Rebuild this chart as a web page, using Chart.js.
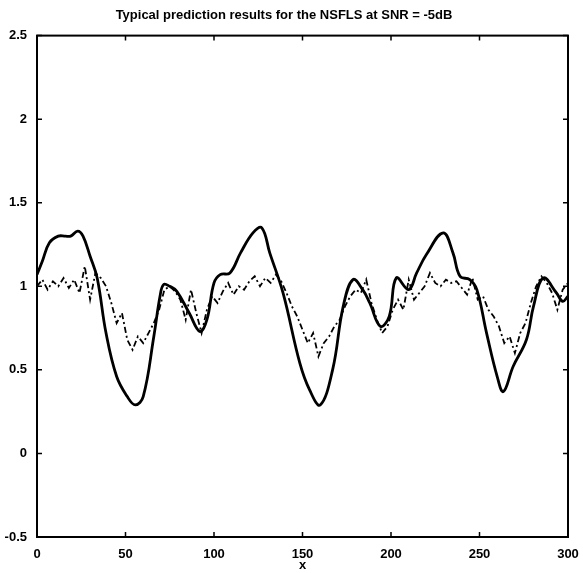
<!DOCTYPE html>
<html>
<head>
<meta charset="utf-8">
<script src="https://cdn.jsdelivr.net/npm/chart.js@4"></script>
<style>
  html, body { margin: 0; padding: 0; background: #fff; }
  #wrap { width: 583px; height: 573px; }
</style>
</head>
<body>
<div id="wrap"><canvas id="chart" width="583" height="573"></canvas></div>
<script>
const titleText = 'Typical prediction results for the NSFLS at SNR = -5dB';
const xTicks = [0, 50, 100, 150, 200, 250, 300];
const yTicks = [-0.5, 0, 0.5, 1, 1.5, 2, 2.5];
const yTickLabels = ['-0.5', '0', '0.5', '1', '1.5', '2', '2.5'];

// actual signal (solid line)
const actualX = [0, 3, 7, 12, 16, 19, 23, 26, 30, 34, 39, 45, 51, 55.5, 60, 66, 69.5, 71.5, 75, 79,
    86, 92, 96, 100, 103.5, 109, 115, 122, 127, 131.5, 139, 148.5, 154, 160, 167, 173, 178.5, 184, 188, 194,
    199, 203, 210, 214.5, 220, 229.5, 235, 239, 244.5, 248.5, 254, 260, 263.5, 269, 276.5, 280.5, 286, 293.5, 297, 300];
const actualY = [1.07, 1.15, 1.26, 1.30, 1.30, 1.30, 1.33, 1.30, 1.18, 1.05, 0.72, 0.46, 0.34, 0.29, 0.34, 0.70, 0.94, 1.01, 1.00, 0.97,
    0.84, 0.73, 0.80, 1.02, 1.07, 1.08, 1.20, 1.32, 1.35, 1.20, 0.96, 0.54, 0.38, 0.29, 0.50, 0.88, 1.04, 0.98, 0.90, 0.76,
    0.82, 1.05, 0.98, 1.08, 1.19, 1.32, 1.20, 1.06, 1.04, 0.98, 0.72, 0.46, 0.37, 0.52, 0.68, 0.88, 1.05, 0.96, 0.91, 0.94];

// NSFLS prediction (dash-dot line), one value every 3 samples
const predStep = 3;
const predY = [1.00, 1.04, 0.98, 1.03, 1.00, 1.05, 0.99, 1.04, 0.96, 1.12,
    0.92, 1.08, 1.05, 1.00, 0.90, 0.78, 0.84, 0.68, 0.62, 0.70,
    0.66, 0.72, 0.78, 0.86, 0.98, 1.00, 0.97, 0.92, 0.80, 0.98,
    0.84, 0.72, 0.86, 0.94, 0.90, 0.97, 1.02, 0.95, 1.00, 0.98,
    1.03, 1.06, 1.00, 1.05, 1.02, 1.07, 1.03, 0.96, 0.88, 0.82,
    0.74, 0.66, 0.72, 0.58, 0.66, 0.70, 0.76, 0.80, 0.88, 0.94,
    0.98, 0.96, 1.04, 0.90, 0.80, 0.72, 0.76, 0.86, 0.92, 0.86,
    1.04, 0.92, 0.96, 1.00, 1.08, 1.02, 1.00, 1.04, 1.02, 1.03,
    0.99, 0.95, 1.05, 0.92, 0.94, 0.86, 0.82, 0.76, 0.66, 0.70,
    0.60, 0.72, 0.78, 0.90, 1.00, 1.06, 1.02, 0.96, 0.86, 0.98,
    1.02];

const FONT = '"Liberation Sans", Arial, sans-serif';

// box round the plot with inward ticks on all four sides
const frame = {
    id: 'frame',
    afterDatasetsDraw(chart) {
        const { ctx, chartArea: a, scales } = chart;
        ctx.save();
        ctx.strokeStyle = '#000';
        ctx.lineWidth = 2;
        ctx.strokeRect(a.left, a.top, a.right - a.left, a.bottom - a.top);
        ctx.lineWidth = 1.5;
        ctx.beginPath();
        xTicks.forEach(v => {
            const px = scales.x.getPixelForValue(v);
            ctx.moveTo(px, a.bottom); ctx.lineTo(px, a.bottom - 5);
            ctx.moveTo(px, a.top); ctx.lineTo(px, a.top + 5);
        });
        yTicks.forEach(v => {
            const py = scales.y.getPixelForValue(v);
            ctx.moveTo(a.left, py); ctx.lineTo(a.left + 5, py);
            ctx.moveTo(a.right, py); ctx.lineTo(a.right - 5, py);
        });
        ctx.stroke();
        ctx.restore();
    }
};

new Chart(document.getElementById('chart'), {
    type: 'line',
    data: {
        datasets: [
            {
                label: 'actual',
                data: actualX.map((x, i) => ({ x, y: actualY[i] })),
                borderColor: '#000',
                borderWidth: 2.8,
                pointRadius: 0,
                fill: false,
                tension: 0.4
            },
            {
                label: 'NSFLS',
                data: predY.map((y, i) => ({ x: i * predStep, y })),
                borderColor: '#000',
                borderWidth: 1.8,
                borderDash: [6, 3, 2, 3],
                pointRadius: 0,
                fill: false,
                tension: 0
            }
        ]
    },
    options: {
        responsive: false,
        animation: false,
        layout: { padding: { right: 15, left: 0, top: 0, bottom: 0 } },
        plugins: {
            legend: { display: false },
            tooltip: { enabled: false },
            title: {
                display: true,
                text: titleText,
                color: '#000',
                font: { family: FONT, size: 13, weight: 'bold' },
                padding: { top: 8, bottom: 12 }
            }
        },
        scales: {
            x: {
                type: 'linear',
                min: 0,
                max: 300,
                afterBuildTicks: s => { s.ticks = xTicks.map(v => ({ value: v })); },
                ticks: { color: '#000', font: { family: FONT, size: 13, weight: 'bold' }, padding: 2, maxRotation: 0 },
                grid: { display: false },
                border: { display: false },
                title: { display: true, text: 'x', color: '#000', font: { family: FONT, size: 13, weight: 'bold' }, padding: 0 },
                afterFit: s => { s.height = 36; }
            },
            y: {
                min: -0.5,
                max: 2.5,
                afterBuildTicks: s => { s.ticks = yTicks.map(v => ({ value: v })); },
                ticks: {
                    color: '#000',
                    font: { family: FONT, size: 13, weight: 'bold' },
                    padding: 2,
                    callback: v => yTickLabels[yTicks.indexOf(v)]
                },
                grid: { display: false },
                border: { display: false },
                afterFit: s => { s.width = 37; }
            }
        }
    },
    plugins: [frame]
});
</script>
</body>
</html>
